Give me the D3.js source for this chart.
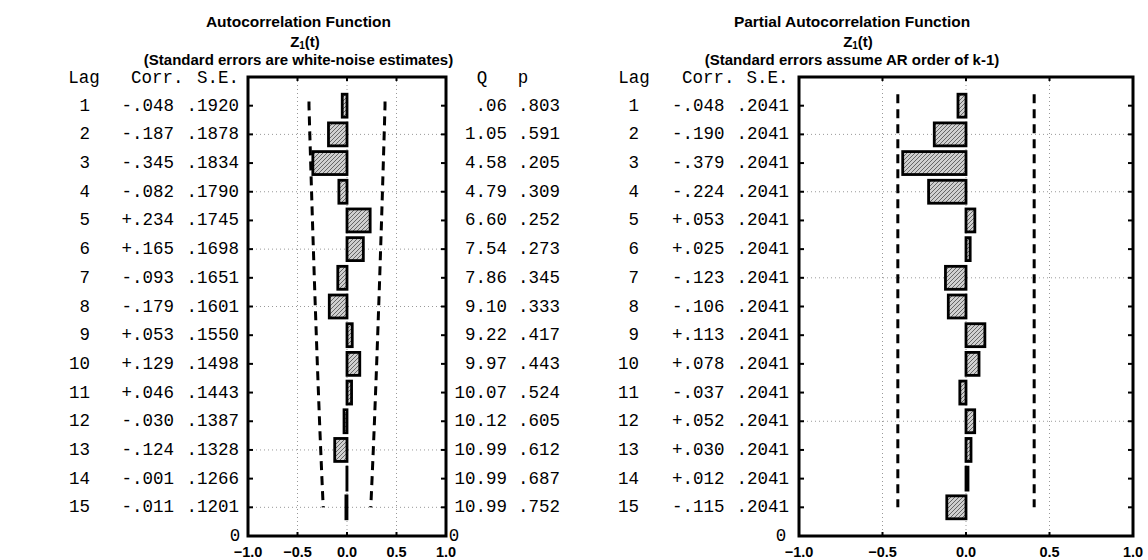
<!DOCTYPE html>
<html><head><meta charset="utf-8">
<script src="https://cdn.jsdelivr.net/npm/d3@7"></script>
<style>
html,body{margin:0;padding:0;background:#fff;}
svg{display:block;}
.mono{font-family:"Liberation Mono","DejaVu Sans Mono",monospace;font-size:17.5px;fill:#000;}
.ttl{font-family:"Liberation Sans",Arial,sans-serif;font-weight:bold;font-size:15.5px;fill:#000;}
.sub{font-family:"Liberation Sans",Arial,sans-serif;font-weight:bold;font-size:15px;fill:#000;}
.tick{font-family:"Liberation Sans",Arial,sans-serif;font-weight:bold;font-size:14.5px;fill:#000;}
</style></head>
<body>
<script>
// ---- data ----
const lags = [1,2,3,4,5,6,7,8,9,10,11,12,13,14,15];
const acfCorr = [-0.048,-0.187,-0.345,-0.082,0.234,0.165,-0.093,-0.179,0.053,0.129,0.046,-0.030,-0.124,-0.001,-0.011];
const acfSE = [0.1920,0.1878,0.1834,0.1790,0.1745,0.1698,0.1651,0.1601,0.1550,0.1498,0.1443,0.1387,0.1328,0.1266,0.1201];
const qStat = [0.06,1.05,4.58,4.79,6.60,7.54,7.86,9.10,9.22,9.97,10.07,10.12,10.99,10.99,10.99];
const pVal = [0.803,0.591,0.205,0.309,0.252,0.273,0.345,0.333,0.417,0.443,0.524,0.605,0.612,0.687,0.752];
const pacfCorr = [-0.048,-0.190,-0.379,-0.224,0.053,0.025,-0.123,-0.106,0.113,0.078,-0.037,0.052,0.030,0.012,-0.115];
const pacfSE = [0.2041,0.2041,0.2041,0.2041,0.2041,0.2041,0.2041,0.2041,0.2041,0.2041,0.2041,0.2041,0.2041,0.2041,0.2041];
const xTicks = [-1.0,-0.5,0.0,0.5,1.0];
const acfGridLags = [2,4,6,8,13,15];
const pacfGridLags = [2,4,7,12];

const W = 1148, H = 560;
const svg = d3.select("body").append("svg").attr("width", W).attr("height", H);

const defs = svg.append("defs");
const pat = defs.append("pattern").attr("id","hatch").attr("patternUnits","userSpaceOnUse")
  .attr("width",4).attr("height",4);
pat.append("rect").attr("width",4).attr("height",4).attr("fill","#cfcfcf");
pat.append("path").attr("d","M-1,1 l2,-2 M0,4 l4,-4 M3,5 l2,-2").attr("stroke","#666").attr("stroke-width",1);

const y = d3.scaleLinear().domain([0,16]).range([77,536]);

const fmtCorr = v => (v < 0 ? "-" : "+") + d3.format(".3f")(Math.abs(v)).replace(/^0/,"");
const fmtSE = v => d3.format(".4f")(v).replace(/^0/,"");
const fmtQ = v => d3.format(".2f")(v).replace(/^0/,"");
const fmtP = v => d3.format(".3f")(v).replace(/^0/,"");

function panel(x, corr, se, gridLags, dashStart) {
  const g = svg.append("g");
  const [x0, x1] = x.range();
  // grid
  g.selectAll(".vg").data([-0.5,0,0.5]).join("line")
    .attr("x1", d=>x(d)).attr("x2", d=>x(d)).attr("y1", y(0)).attr("y2", y(16))
    .attr("stroke","#999").attr("stroke-width",1).attr("stroke-dasharray","1,3");
  g.selectAll(".hg").data(gridLags).join("line")
    .attr("x1", x0).attr("x2", x1).attr("y1", d=>y(d)).attr("y2", d=>y(d))
    .attr("stroke","#999").attr("stroke-width",1).attr("stroke-dasharray","1,3");
  // dashed limits
  const pts = [{lag: dashStart, s: se[0]}].concat(lags.map((l,i)=>({lag:l, s:se[i]})));
  [1,-1].forEach(sign => {
    g.append("path").datum(pts)
      .attr("d", d3.line().x(d=>x(sign*2*d.s)).y(d=>y(d.lag)))
      .attr("fill","none").attr("stroke","#000").attr("stroke-width",3)
      .attr("stroke-dasharray","9,6");
  });
  // bars
  const bh = 0.8;
  g.selectAll(".bar").data(lags).join("rect")
    .attr("x", (d,i)=>Math.min(x(0), x(corr[i])))
    .attr("width", (d,i)=>Math.abs(x(corr[i]) - x(0)))
    .attr("y", d=>y(d - bh/2))
    .attr("height", d=>y(d + bh/2) - y(d - bh/2))
    .attr("fill","url(#hatch)").attr("stroke","#000").attr("stroke-width",2.8);
  // box
  g.append("rect").attr("x",x0).attr("y",y(0)).attr("width",x1-x0).attr("height",y(16)-y(0))
    .attr("fill","none").attr("stroke","#000").attr("stroke-width",3);
  // ticks (inward)
  g.selectAll(".lt").data(lags).join("line")
    .attr("x1",x0).attr("x2",x0+5).attr("y1",d=>y(d)).attr("y2",d=>y(d))
    .attr("stroke","#000").attr("stroke-width",2);
  g.selectAll(".rt").data(lags).join("line")
    .attr("x1",x1).attr("x2",x1-5).attr("y1",d=>y(d)).attr("y2",d=>y(d))
    .attr("stroke","#000").attr("stroke-width",2);
  g.selectAll(".tt").data([-0.5,0,0.5]).join("line")
    .attr("x1",d=>x(d)).attr("x2",d=>x(d)).attr("y1",y(0)).attr("y2",y(0)+4)
    .attr("stroke","#000").attr("stroke-width",2);
  g.selectAll(".bt").data([-0.5,0,0.5]).join("line")
    .attr("x1",d=>x(d)).attr("x2",d=>x(d)).attr("y1",y(16)).attr("y2",y(16)-4)
    .attr("stroke","#000").attr("stroke-width",2);
  // x tick labels
  g.selectAll(".xl").data(xTicks).join("text").attr("class","tick")
    .attr("x", d=>x(d)).attr("y", 557).attr("text-anchor","middle")
    .text(d=>d3.format(".1f")(d));
  return g;
}

const xL = d3.scaleLinear().domain([-1,1]).range([248,446]);
const xR = d3.scaleLinear().domain([-1,1]).range([799,1133]);
panel(xL, acfCorr, acfSE, acfGridLags, 0.85);
panel(xR, pacfCorr, pacfSE, pacfGridLags, 0.6);

// titles
function title(cx, t1, zx, t3) {
  svg.append("text").attr("class","ttl").attr("x",cx).attr("y",27).attr("text-anchor","middle").text(t1);
  const z = svg.append("text").attr("class","sub").attr("x",zx).attr("y",47).attr("text-anchor","middle");
  z.append("tspan").text("Z");
  z.append("tspan").attr("font-size","10px").attr("dy",2).text("1");
  z.append("tspan").attr("dy",-2).text("(t)");
  svg.append("text").attr("class","sub").attr("x",cx).attr("y",64.5).attr("text-anchor","middle").text(t3);
}
title(298.5, "Autocorrelation Function", 305, "(Standard errors are white-noise estimates)");
title(852, "Partial Autocorrelation Function", 858, "(Standard errors assume AR order of k-1)");

// tables
const hy = y(0) + 6;
function txt(xp, yp, s, anchor) {
  svg.append("text").attr("class","mono").attr("x",xp).attr("y",yp).attr("text-anchor",anchor||"start").text(s);
}
// left headers
txt(84, hy, "Lag", "middle"); txt(131, hy, "Corr."); txt(197, hy, "S.E.");
txt(482, hy, "Q", "middle"); txt(523, hy, "p", "middle");
// right headers
txt(634, hy, "Lag", "middle"); txt(682, hy, "Corr."); txt(746.5, hy, "S.E.");

lags.forEach((l,i)=>{
  const yy = y(l) + 5;
  txt(90, yy, String(l), "end");
  txt(121.5, yy, fmtCorr(acfCorr[i]));
  txt(186.5, yy, fmtSE(acfSE[i]));
  txt(507, yy, fmtQ(qStat[i]), "end");
  txt(518, yy, fmtP(pVal[i]));
  txt(639, yy, String(l), "end");
  txt(672, yy, fmtCorr(pacfCorr[i]));
  txt(736.5, yy, fmtSE(pacfSE[i]));
});
// zero labels
txt(235, y(16)+5, "0", "middle");
txt(454, y(16)+5, "0", "middle");
txt(781, y(16)+5, "0", "middle");
</script>
</body></html>
